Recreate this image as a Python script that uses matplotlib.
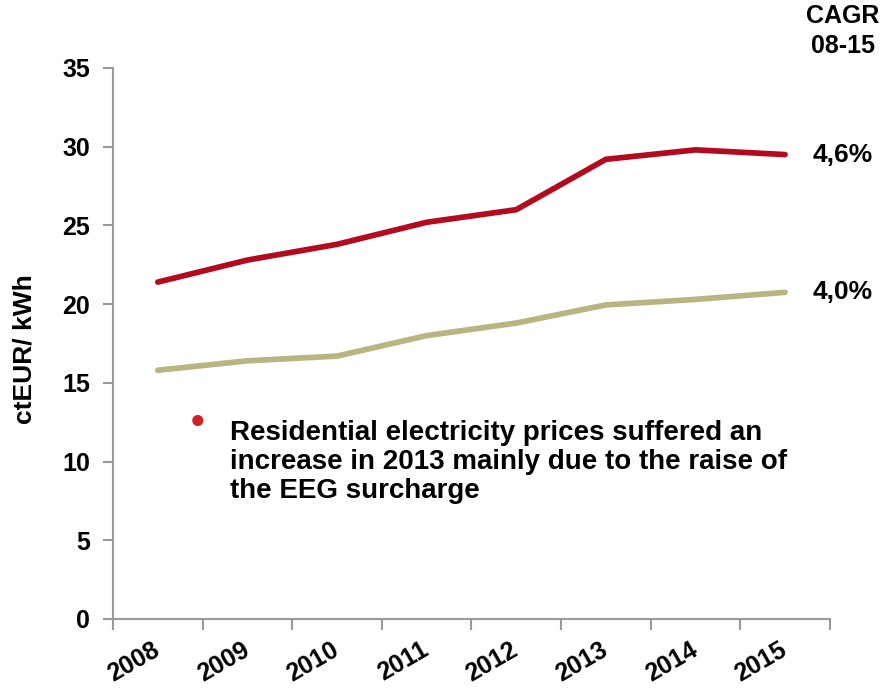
import matplotlib
matplotlib.use("Agg")
import matplotlib.pyplot as plt

plt.rcParams['font.family'] = ['Liberation Sans', 'DejaVu Sans']
plt.rcParams['font.weight'] = 'bold'

years = ["2008", "2009", "2010", "2011", "2012", "2013", "2014", "2015"]
residential = [21.4, 22.8, 23.8, 25.2, 26.0, 29.2, 29.8, 29.5]
industrial = [15.8, 16.4, 16.7, 18.0, 18.8, 19.95, 20.3, 20.75]
cagr_labels = ["4,6%", "4,0%"]
y_ticks = [0, 5, 10, 15, 20, 25, 30, 35]

red = "#B40A1E"
tan = "#B9B583"
axis_gray = "#9A9A9A"

fig = plt.figure(figsize=(8.85, 6.91), dpi=100)
ax = fig.add_axes([0.1277, 0.1042, 0.81, 0.7974])

x = list(range(len(years)))
ax.plot(x, residential, color=red, lw=4.1, solid_capstyle='round', solid_joinstyle='round')
ax.plot(x, industrial, color=tan, lw=4.1, solid_capstyle='round', solid_joinstyle='round')

ax.set_xlim(-0.5, len(years) - 0.5)
ax.set_ylim(0, 35)

for side in ("top", "right"):
    ax.spines[side].set_visible(False)
for side in ("left", "bottom"):
    ax.spines[side].set_color(axis_gray)
    ax.spines[side].set_linewidth(1.5)

ax.set_yticks(y_ticks)
ax.set_yticklabels([str(v) for v in y_ticks], fontsize=18, fontweight='bold')
ax.tick_params(axis='y', direction='out', length=7, width=1.5, color=axis_gray, pad=9.5)

# boundary ticks between categories, labels centred on categories
ax.set_xticks([i - 0.5 for i in range(len(years) + 1)])
ax.set_xticklabels([])
ax.tick_params(axis='x', which='major', direction='out', length=8, width=1.5, color=axis_gray)
ax.set_xticks(x, minor=True)
ax.set_xticklabels(years, minor=True, fontsize=18, fontweight='bold',
                   rotation=30, ha='right', va='center', rotation_mode='anchor')
ax.tick_params(axis='x', which='minor', length=0, pad=21)

fig.text(25 / 885, 1 - 349 / 691, "ctEUR/ kWh", fontsize=19, fontweight='bold',
         rotation=90, ha='center', va='center')

# CAGR annotations at the right end of each series
ax.annotate(cagr_labels[0], xy=(x[-1], residential[-1]), xytext=(19.5, 0),
            textcoords='offset points', fontsize=19, fontweight='bold', va='center', ha='left')
ax.annotate(cagr_labels[1], xy=(x[-1], industrial[-1]), xytext=(19.5, 0),
            textcoords='offset points', fontsize=19, fontweight='bold', va='center', ha='left')
fig.text(843 / 885, 1 - 16 / 691, "CAGR", fontsize=18, fontweight='bold',
         ha='center', va='center')
fig.text(843 / 885, 1 - 46 / 691, "08-15", fontsize=18, fontweight='bold',
         ha='center', va='center')

# commentary bullet
fig.text(198 / 885, 1 - 423 / 691, "\u2022", color="#D0202A", fontsize=28,
         ha='center', va='center')
fig.text(230 / 885, 1 - 462 / 691,
         "Residential electricity prices suffered an\nincrease in 2013 mainly due to the raise of\nthe EEG surcharge",
         fontsize=20, fontweight='bold', ha='left', va='center', linespacing=1.15)

fig.savefig("out.png", dpi=100)
